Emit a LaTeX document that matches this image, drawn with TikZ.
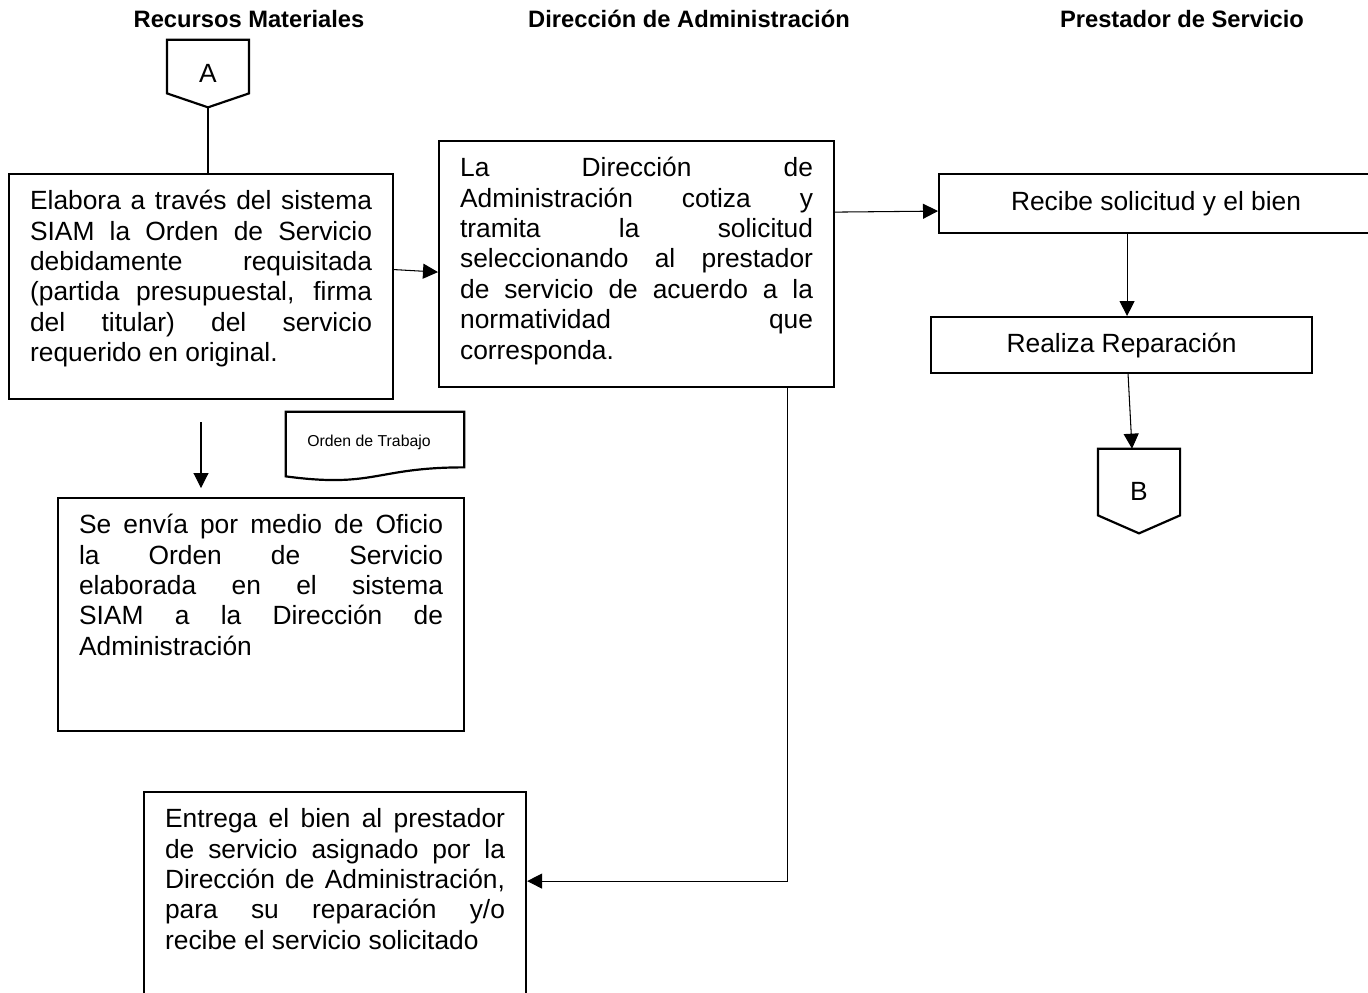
\documentclass[tikz,border=0pt]{standalone}
\usepackage{fontspec}
\setmainfont{Liberation Sans}
\usetikzlibrary{arrows.meta,positioning,calc}

\newcommand{\linea}[1]{\hbox to\hsize{#1}}
\newcommand{\ultima}[1]{\hbox to\hsize{#1\hfil}}

\begin{document}
\begin{tikzpicture}[
    x=0.02cm, y=-0.02cm,
    caja/.style={draw, line width=1.25pt, anchor=north west, inner xsep=0.42cm, inner ysep=0pt, font=\fontsize{15}{17.3}\selectfont},
    simple/.style={draw, line width=1.25pt, anchor=north west, font=\fontsize{15}{17.3}\selectfont},
    conector/.style={minimum width=1.63cm, inner sep=0pt, font=\fontsize{15}{17.3}\selectfont},
    titulo/.style={anchor=base, font=\fontsize{13.5}{16}\selectfont\bfseries},
    arrow/.style={-{Triangle[length=0.3cm, width=0.3cm]}, line width=0.6pt},
    enlace/.style={line width=0.6pt}
]
\useasboundingbox (0,0) rectangle (1368,992);

% Headers
\node[titulo] (tRM) at (249,27) {Recursos Materiales};
\node[titulo] (tDA) at (689,27) {Dirección de Administración};
\node[titulo] (tPS) at (1182,27) {Prestador de Servicio};

% Recursos Materiales
\node[conector, minimum height=1.34cm] (conA) at (208,73.5) {A};
\draw[line width=1.25pt] (conA.north west) -- (conA.north east) -- ([yshift=0.28cm]conA.south east)
    -- (conA.south) -- ([yshift=0.28cm]conA.south west) -- cycle;

\node[caja] (elabora) at (8,173) {\parbox[t][4.5cm][t]{6.84cm}{\vskip3pt\hbox{}%
    \linea{Elabora a través del sistema}
    \linea{SIAM la Orden de Servicio}
    \linea{debidamente requisitada}
    \linea{(partida presupuestal, firma}
    \linea{del titular) del servicio}
    \ultima{requerido en original.}}};

\node[font=\fontsize{9}{11}\selectfont, minimum width=3.56cm, minimum height=1.2cm, inner sep=0pt] (orden) at (375,442) {\hspace*{-0.24cm}Orden de Trabajo};
\draw[line width=1.25pt] (orden.north west) -- (orden.north east) -- ([yshift=0.1cm]orden.south east)
    .. controls ([yshift=0.1cm]orden.south) and ([yshift=-0.32cm]orden.south) .. ([yshift=-0.08cm]orden.south west) -- cycle;

\node[caja] (envia) at (57,497) {\parbox[t][4.66cm][t]{7.28cm}{\vskip3pt\hbox{}%
    \linea{Se envía por medio de Oficio}
    \linea{la Orden de Servicio}
    \linea{elaborada en el sistema}
    \linea{SIAM a la Dirección de}
    \ultima{Administración}}};

\node[caja] (entrega) at (143,791) {\parbox[t][4.3cm][t]{6.80cm}{\vskip3pt\hbox{}%
    \linea{Entrega el bien al prestador}
    \linea{de servicio asignado por la}
    \linea{Dirección de Administración,}
    \linea{para su reparación y/o}
    \ultima{recibe el servicio solicitado}}};

% Direccion de Administracion
\node[caja] (cotiza) at (438,140) {\parbox[t][4.92cm][t]{7.06cm}{\vskip3pt\hbox{}%
    \linea{La Dirección de}
    \linea{Administración cotiza y}
    \linea{tramita la solicitud}
    \linea{seleccionando al prestador}
    \linea{de servicio de acuerdo a la}
    \linea{normatividad que}
    \ultima{corresponda.}}};

% Prestador de Servicio
\node[simple, minimum width=8.68cm, minimum height=1.18cm] (recibe) at (938,173) {Recibe solicitud y el bien};
\node[simple, minimum width=7.62cm, minimum height=1.12cm] (repara) at (930,316) {Realiza Reparación};

\node[conector, minimum height=1.68cm] (conB) at (1139,491) {B};
\draw[line width=1.25pt] (conB.north west) -- (conB.north east) -- ([yshift=0.36cm]conB.south east)
    -- (conB.south) -- ([yshift=0.36cm]conB.south west) -- cycle;

% Connectors
\coordinate (c1) at (201,422);
\coordinate (c2) at ([yshift=0.37cm]entrega.east);
\coordinate (r1) at ([xshift=0.11cm]repara.north);

\draw[enlace] (conA.south) -- (conA.south |- elabora.north);
\draw[arrow] ([yshift=0.34cm]elabora.east) -- ([yshift=-0.16cm]cotiza.west);
\draw[arrow, shorten >=0.18cm] (c1) -- (c1 |- envia.north);
\draw[arrow] ([yshift=1.04cm]cotiza.east) -- ([yshift=-0.15cm]recibe.west);
\draw[arrow] (recibe.south -| r1) -- (r1);
\draw[arrow] ([xshift=0.13cm]repara.south) -- ([xshift=-0.14cm]conB.north);
\draw[arrow] ([xshift=3.01cm]cotiza.south) |- (c2);
\end{tikzpicture}
\end{document}
